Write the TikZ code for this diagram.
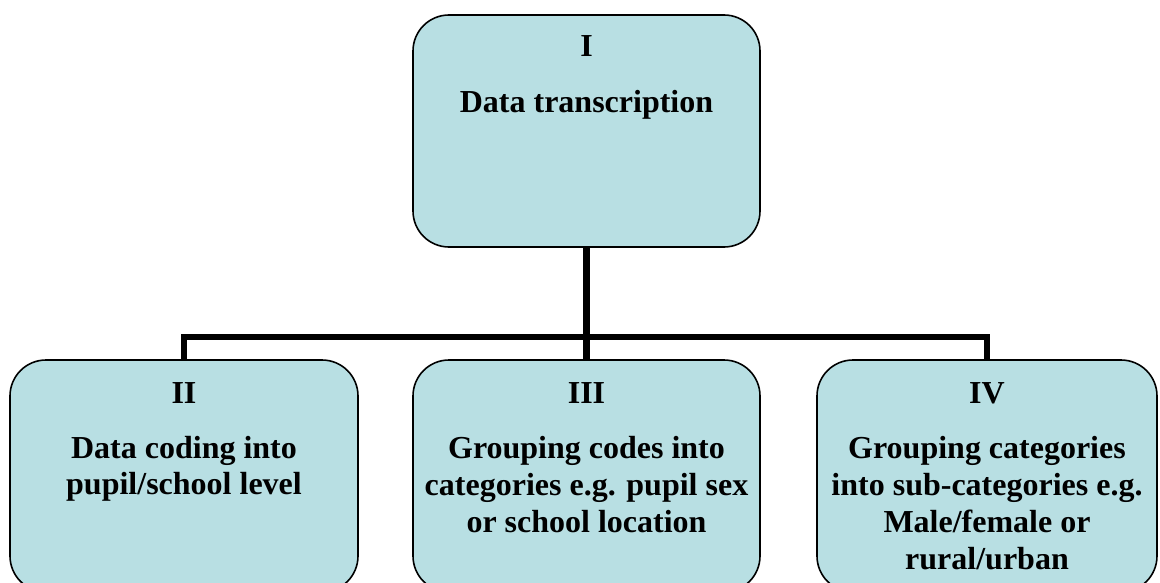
\documentclass[tikz,border=0pt]{standalone}
\usepackage{fontspec}
\setmainfont{Liberation Serif}
\usetikzlibrary{calc}
\definecolor{boxfill}{RGB}{184,223,227}
\begin{document}
\begin{tikzpicture}[x=1pt,y=-1pt,
  stage/.style={draw=black, line width=1.6pt, fill=boxfill, rounded corners=36pt,
    inner sep=0pt, outer sep=0pt, minimum width=#1, minimum height=232pt},
  stage/.default=347pt,
  txt/.style={font=\fontsize{32pt}{37pt}\selectfont\bfseries, inner sep=0pt, anchor=base},
  link/.style={draw=black, line width=6.5pt}]
\useasboundingbox (0,0) rectangle (1160,583);
\clip (0,0) rectangle (1160,583);

% stage boxes
\node[stage] (s1) at (586.5,131) {};
\node[stage=348pt] (s2) at (184,476) {};
\node[stage] (s3) at (586.5,476) {};
\node[stage=340pt] (s4) at (987,476) {};

% tree connectors
\coordinate (bus) at (0,337);
\draw[link] (s1.south) -- (s3.north);
\draw[link, line cap=rect] (s2.north |- bus) -- (s4.north |- bus);
\draw[link] (s2.north |- bus) -- (s2.north);
\draw[link] (s4.north |- bus) -- (s4.north);

% labels, one baseline each
\node[txt] at ($(s1.north)+(0,42)$) {I};
\node[txt] at ($(s1.north)+(0,98)$) {Data transcription};

\node[txt] at ($(s2.north)+(0,43)$) {II};
\node[txt] at ($(s2.north)+(0,98)$) {Data coding into};
\node[txt] at ($(s2.north)+(0,134)$) {pupil/school level};

\node[txt] at ($(s3.north)+(0,43)$) {III};
\node[txt] at ($(s3.north)+(0,98)$) {Grouping codes into};
\node[txt] at ($(s3.north)+(0,135)$) {categories e.g. pupil sex};
\node[txt] at ($(s3.north)+(0,172)$) {or school location};

\node[txt] at ($(s4.north)+(0,43)$) {IV};
\node[txt] at ($(s4.north)+(0,98)$) {Grouping categories};
\node[txt] at ($(s4.north)+(0,135)$) {into sub-categories e.g.};
\node[txt] at ($(s4.north)+(0,172)$) {Male/female or};
\node[txt] at ($(s4.north)+(0,209)$) {rural/urban};
\end{tikzpicture}
\end{document}
